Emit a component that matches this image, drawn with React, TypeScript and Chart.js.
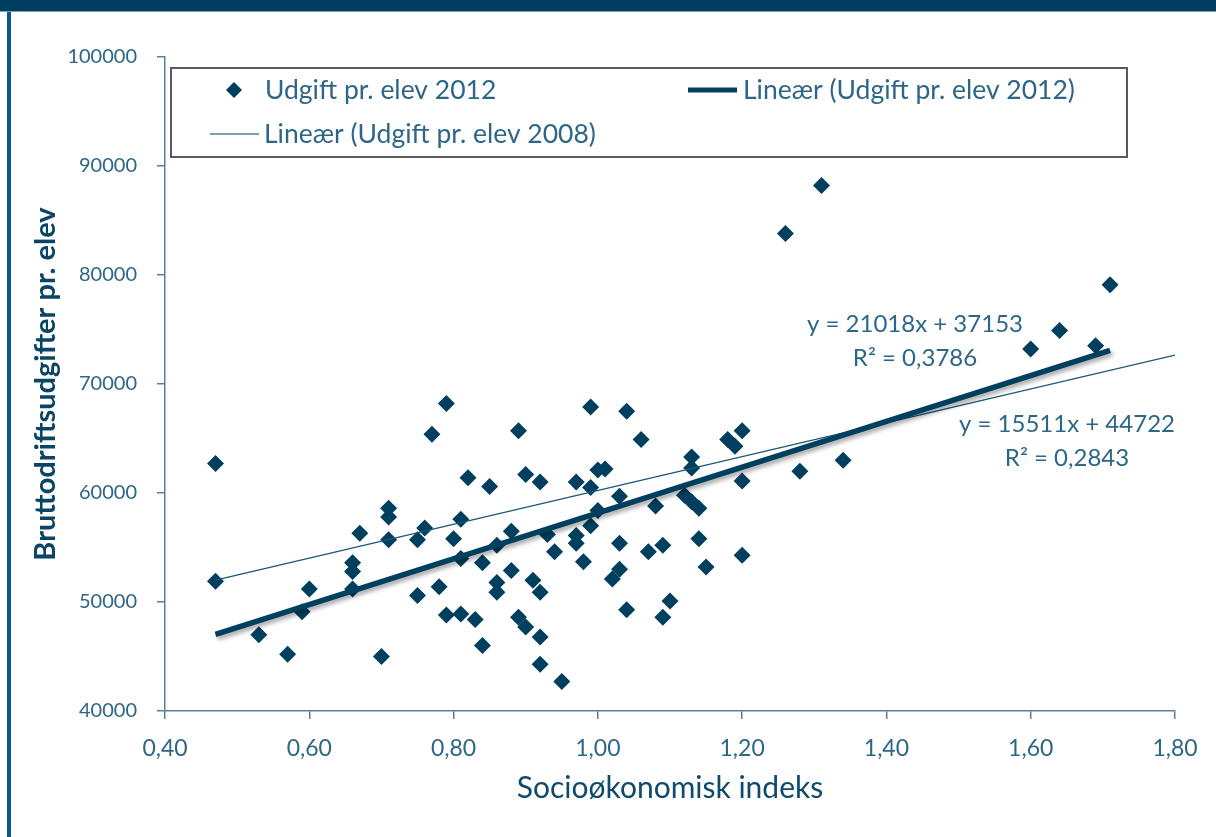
import React, { useEffect, useRef } from "react";
import { Chart, registerables } from "chart.js";

Chart.register(...registerables);

// Data
const xValues: number[] = [
  0.47, 0.47, 0.53, 0.57, 0.59, 0.60, 0.66, 0.66, 0.66, 0.67,
  0.70, 0.71, 0.71, 0.71, 0.75, 0.75, 0.76, 0.77, 0.78, 0.79,
  0.79, 0.80, 0.81, 0.81, 0.81, 0.82, 0.83, 0.84, 0.84, 0.85,
  0.86, 0.86, 0.86, 0.88, 0.88, 0.89, 0.89, 0.90, 0.90, 0.91,
  0.92, 0.92, 0.92, 0.92, 0.93, 0.94, 0.95, 0.97, 0.97, 0.97,
  0.98, 0.99, 0.99, 0.99, 1.00, 1.00, 1.01, 1.02, 1.03, 1.03,
  1.03, 1.04, 1.04, 1.06, 1.07, 1.08, 1.09, 1.09, 1.10, 1.12,
  1.13, 1.14, 1.13, 1.13, 1.14, 1.15, 1.18, 1.19, 1.20, 1.20,
  1.20, 1.28, 1.31, 1.26, 1.34, 1.60, 1.64, 1.69, 1.71,
];
const yValues: number[] = [
  62700, 51900, 47000, 45200, 49100, 51200, 53600, 52800, 51200, 56300,
  45000, 58600, 57800, 55700, 55700, 50600, 56800, 65400, 51400, 68200,
  48800, 55800, 57600, 54000, 48900, 61400, 48400, 53600, 46000, 60600,
  55200, 51800, 50900, 56500, 52900, 65700, 48600, 47700, 61700, 52000,
  61000, 50900, 46800, 44300, 56200, 54600, 42700, 61000, 56100, 55400,
  53700, 60500, 67900, 57000, 62100, 58400, 62200, 52100, 53000, 59700,
  55400, 67500, 49300, 64900, 54600, 58800, 55200, 48600, 50100, 59800,
  59200, 58600, 63300, 62300, 55800, 53200, 64900, 64300, 65700, 61100,
  54300, 62000, 88200, 83800, 63000, 73200, 74900, 73500, 79100,
];

// Trend lines as printed on the chart
const trend2012 = { slope: 21018, intercept: 37153, r2: "0,3786" };
const trend2008 = { slope: 15511, intercept: 44722, r2: "0,2843" };
const trend2012X: number[] = [0.47, 1.71];
const trend2008X: number[] = [0.47, 1.8];

const xTicks: number[] = [0.4, 0.6, 0.8, 1.0, 1.2, 1.4, 1.6, 1.8];
const yTicks: number[] = [40000, 50000, 60000, 70000, 80000, 90000, 100000];

const seriesLabel = "Udgift pr. elev 2012";
const trend2012Label = "Lineær (Udgift pr. elev 2012)";
const trend2008Label = "Lineær (Udgift pr. elev 2008)";
const xTitle = "Socioøkonomisk indeks";
const yTitle = "Bruttodriftsudgifter pr. elev";

const NAVY = "#003f5e";
const AXIS = "#5d8099";
const TEXT = "#2d6687";
const FONT = "Lato, 'Noto Sans', sans-serif";

export default function App() {
  const canvasRef = useRef<HTMLCanvasElement | null>(null);

  useEffect(() => {
    const canvas = canvasRef.current;
    if (!canvas) return;

    const points = xValues.map((x, i) => ({ x, y: yValues[i] }));
    const t12 = trend2012X.map((x) => ({ x, y: trend2012.slope * x + trend2012.intercept }));
    const t08 = trend2008X.map((x) => ({ x, y: trend2008.slope * x + trend2008.intercept }));

    const shadowPlugin = {
      id: "lineShadow",
      beforeDatasetDraw(chart: any, args: any) {
        if (args.index === 0) {
          const ctx = chart.ctx;
          ctx.save();
          ctx.shadowColor = "rgba(0,0,0,0.35)";
          ctx.shadowBlur = 4;
          ctx.shadowOffsetX = 2;
          ctx.shadowOffsetY = 3;
        }
      },
      afterDatasetDraw(chart: any, args: any) {
        if (args.index === 0) chart.ctx.restore();
      },
    };

    const decorPlugin = {
      id: "decor",
      afterDraw(chart: any) {
        const ctx: CanvasRenderingContext2D = chart.ctx;
        const xs = chart.scales.x;
        const ys = chart.scales.y;
        ctx.save();

        // Legend box
        ctx.fillStyle = "#ffffff";
        ctx.fillRect(171, 68, 956, 89);
        ctx.strokeStyle = "#5a5a5a";
        ctx.lineWidth = 2;
        ctx.strokeRect(171, 68, 956, 89);

        ctx.textBaseline = "middle";
        ctx.textAlign = "left";
        ctx.font = `26.5px ${FONT}`;
        ctx.fillStyle = TEXT;

        // diamond marker
        ctx.fillStyle = NAVY;
        ctx.beginPath();
        ctx.moveTo(234, 82);
        ctx.lineTo(242, 90);
        ctx.lineTo(234, 98);
        ctx.lineTo(226, 90);
        ctx.closePath();
        ctx.fill();
        ctx.fillStyle = TEXT;
        ctx.fillText(seriesLabel, 265, 90);

        // thick line marker
        ctx.strokeStyle = NAVY;
        ctx.lineWidth = 5;
        ctx.beginPath();
        ctx.moveTo(688, 90);
        ctx.lineTo(737, 90);
        ctx.stroke();
        ctx.fillText(trend2012Label, 743, 90);

        // thin line marker
        ctx.lineWidth = 1.2;
        ctx.beginPath();
        ctx.moveTo(210, 134);
        ctx.lineTo(259, 134);
        ctx.stroke();
        ctx.fillText(trend2008Label, 264, 134);

        // equation labels
        ctx.textAlign = "center";
        ctx.font = `24px ${FONT}`;
        const eq12x = 915;
        ctx.fillText(`y = ${trend2012.slope}x + ${trend2012.intercept}`, eq12x, 324);
        ctx.fillText(`R² = ${trend2012.r2}`, eq12x, 358);
        const eq08x = 1067;
        ctx.fillText(`y = ${trend2008.slope}x + ${trend2008.intercept}`, eq08x, 424);
        ctx.fillText(`R² = ${trend2008.r2}`, eq08x, 458);

        // axis titles
        ctx.fillStyle = "#0d4a6b";
        ctx.font = `30px ${FONT}`;
        ctx.textAlign = "center";
        ctx.fillText(xTitle, (xs.left + xs.right) / 2, 788);

        ctx.save();
        ctx.translate(46, (ys.top + ys.bottom) / 2);
        ctx.rotate(-Math.PI / 2);
        ctx.font = `bold 29px ${FONT}`;
        ctx.fillStyle = "#0a4565";
        ctx.fillText(yTitle, 0, 0);
        ctx.restore();

        ctx.restore();
      },
    };

    const chart = new Chart(canvas, {
      type: "scatter",
      data: {
        datasets: [
          {
            type: "line",
            label: trend2012Label,
            data: t12,
            borderColor: NAVY,
            borderWidth: 5.5,
            pointRadius: 0,
            fill: false,
            order: 0,
          } as any,
          {
            type: "line",
            label: trend2008Label,
            data: t08,
            borderColor: "#1b5676",
            borderWidth: 1.2,
            pointRadius: 0,
            fill: false,
            order: 0,
          } as any,
          {
            label: seriesLabel,
            data: points,
            pointStyle: "rectRot",
            pointRadius: 8.5,
            pointBackgroundColor: NAVY,
            pointBorderColor: NAVY,
            pointBorderWidth: 0,
            order: 1,
          } as any,
        ],
      },
      options: {
        responsive: false,
        animation: false,
        events: [],
        layout: { padding: { left: 0, top: 57, right: 41, bottom: 0 } },
        plugins: {
          legend: { display: false },
          tooltip: { enabled: false },
          title: { display: false },
        },
        scales: {
          x: {
            type: "linear",
            min: 0.4,
            max: 1.8,
            afterFit(scale: any) {
              scale.height = 126;
            },
            afterBuildTicks(scale: any) {
              scale.ticks = xTicks.map((v) => ({ value: v }));
            },
            ticks: {
              color: TEXT,
              font: { family: FONT, size: 23 },
              padding: 16,
              maxRotation: 0,
              callback: (v: any) => Number(v).toFixed(2).replace(".", ","),
            },
            grid: {
              drawOnChartArea: false,
              drawTicks: true,
              tickLength: 8,
              color: AXIS,
              lineWidth: 1.5,
            },
            border: { display: true, color: AXIS, width: 1.5 },
          },
          y: {
            type: "linear",
            min: 40000,
            max: 100000,
            afterFit(scale: any) {
              scale.width = 165;
            },
            afterBuildTicks(scale: any) {
              scale.ticks = yTicks.map((v) => ({ value: v }));
            },
            ticks: {
              color: TEXT,
              font: { family: FONT, size: 20 },
              padding: 20,
              callback: (v: any) => String(v),
            },
            grid: {
              drawOnChartArea: false,
              drawTicks: true,
              tickLength: 8,
              color: AXIS,
              lineWidth: 1.5,
            },
            border: { display: true, color: AXIS, width: 1.5 },
          },
        },
      },
      plugins: [shadowPlugin, decorPlugin],
    } as any);

    return () => {
      chart.destroy();
    };
  }, []);

  return (
    <div
      style={{
        position: "fixed",
        left: 0,
        top: 0,
        width: 1216,
        height: 837,
        background: "#ffffff",
        overflow: "hidden",
      }}
    >
      <canvas
        ref={canvasRef}
        width={1216}
        height={837}
        style={{ position: "absolute", left: 0, top: 0, width: 1216, height: 837 }}
      />
      <div
        style={{
          position: "absolute",
          left: 0,
          top: 0,
          width: 1216,
          height: 11,
          background: "#003f61",
          borderBottom: "1px solid #7aa3bb",
        }}
      />
      <div
        style={{
          position: "absolute",
          left: 7,
          top: 12,
          width: 4,
          height: 825,
          background: "#0a5c88",
        }}
      />
    </div>
  );
}
